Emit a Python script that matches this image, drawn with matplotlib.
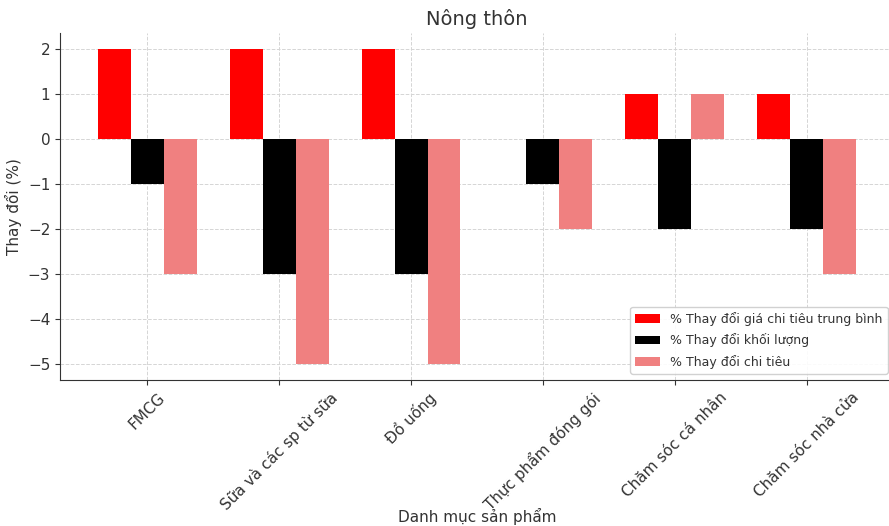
import matplotlib.pyplot as plt
import numpy as np

categories = ['FMCG', 'Sữa và các sp từ sữa', 'Đồ uống', 'Thực phẩm đóng gói',
              'Chăm sóc cá nhân', 'Chăm sóc nhà cửa']
price_change = [2, 2, 2, 0, 1, 1]
volume_change = [-1, -3, -3, -1, -2, -2]
spend_change = [-3, -5, -5, -2, 1, -3]
series_labels = ['% Thay đổi giá chi tiêu trung bình', '% Thay đổi khối lượng',
                 '% Thay đổi chi tiêu']

plt.rcParams['text.color'] = '#333333'
plt.rcParams['axes.labelcolor'] = '#333333'
plt.rcParams['xtick.color'] = '#333333'
plt.rcParams['ytick.color'] = '#333333'

fig = plt.figure(figsize=(8.89, 5.26), dpi=100)
ax = fig.add_axes([0.0675, 0.2776, 0.938, 0.6597])

x = np.arange(len(categories))
w = 0.25
ax.bar(x - w, price_change, w, color='red', label=series_labels[0], zorder=2)
ax.bar(x, volume_change, w, color='black', label=series_labels[1], zorder=2)
ax.bar(x + w, spend_change, w, color='lightcoral', label=series_labels[2], zorder=2)

ax.set_title('Nông thôn', fontsize=14)
ax.set_xlabel('Danh mục sản phẩm', fontsize=11, labelpad=-3.5)
ax.set_ylabel('Thay đổi (%)', fontsize=11)
ax.set_xticks(x)
ax.set_xticklabels(categories, rotation=45, ha='center', fontsize=11)
ax.tick_params(axis='y', labelsize=11)
ax.grid(True, linestyle='--', color='#d5d5d5', linewidth=0.7, zorder=0)
ax.spines['top'].set_visible(False)
ax.spines['right'].set_visible(False)
ax.spines['left'].set_color('#333333')
ax.spines['bottom'].set_color('#333333')

ax.legend(loc='lower right', fontsize=9, labelspacing=0.6, framealpha=0.9)

fig.savefig('out.png', dpi=100)
